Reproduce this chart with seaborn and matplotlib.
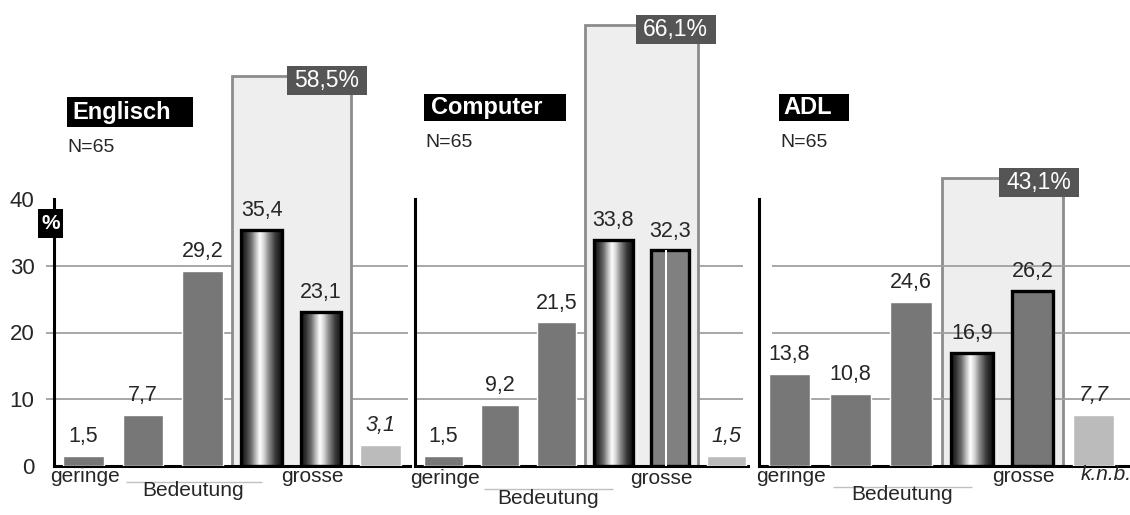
import numpy as np
import pandas as pd
import matplotlib
matplotlib.use("Agg")
import matplotlib.pyplot as plt
import seaborn as sns
from matplotlib.patches import Rectangle
from matplotlib.colors import LinearSegmentedColormap

sns.set_style("white")
plt.rcParams["font.family"] = ["Liberation Sans", "DejaVu Sans"]

# ---- data -------------------------------------------------------------
scale_steps = ["1", "2", "3", "4", "5", "k.n.b."]
englisch = [1.5, 7.7, 29.2, 35.4, 23.1, 3.1]
computer = [1.5, 9.2, 21.5, 33.8, 32.3, 1.5]
adl = [13.8, 10.8, 24.6, 16.9, 26.2, 7.7]
top_two_share = [58.5, 66.1, 43.1]
titles = ["Englisch", "Computer", "ADL"]
sample_size = ["N=65", "N=65", "N=65"]
y_ticks = [0, 10, 20, 30, 40]

# ---- bar styles ---------------------------------------------------------
englisch_styles = ["flat", "flat", "flat", "cyl", "cyl", "knb"]
computer_styles = ["flat", "flat", "flat", "cyl", "stripe", "knb"]
adl_styles = ["flat", "flat", "flat", "cyl", "edge", "knb"]

W, H = 1130, 515
fig = plt.figure(figsize=(W / 100, H / 100), dpi=100)

cyl_cmap = LinearSegmentedColormap.from_list(
    "cyl",
    [(0.0, "#111111"), (0.12, "#333333"), (0.25, "#6e6e6e"), (0.36, "#bdbdbd"),
     (0.46, "#ffffff"), (0.56, "#d6d6d6"), (0.68, "#8a8a8a"), (0.84, "#3a3a3a"),
     (1.0, "#0d0d0d")])

FLAT = "#777777"
KNB = "#bbbbbb"
BOX_FILL = "#eeeeee"
BOX_EDGE = "#8c8c8c"
GRID = "#a0a0a0"

y0_px, y40_px = 466, 199

panels = [
    dict(values=englisch, styles=englisch_styles, left=54, right=410,
         title_box=(67, 97, 193, 127), title_x=72, n_xy=(67, 148),
         grid=(-0.635, 5.47), box_over_grid=True, base_end=5.5,
         yticks=True, sub=(10, 24, 16)),
    dict(values=computer, styles=computer_styles, left=415, right=755,
         title_box=(424, 94, 566, 121), title_x=431, n_xy=(425, 143),
         grid=(-0.5, 5.28), box_over_grid=True, base_end=5.37,
         yticks=False, sub=(12, 32, 23)),
    dict(values=adl, styles=adl_styles, left=759, right=1124,
         title_box=(779, 94, 849, 121), title_x=783, n_xy=(780, 143),
         grid=(-0.29, 5.6), box_over_grid=False, base_end=5.6,
         yticks=False, sub=(11, 28, 21)),
]

def fx(x):
    return x / W

def fy(y):
    return 1 - y / H

def fmt(v):
    return f"{v:.1f}".replace(".", ",")

for i, p in enumerate(panels):
    ax = fig.add_axes([fx(p["left"]), fy(y0_px), (p["right"] - p["left"]) / W,
                       (y0_px - y40_px) / H])
    ax.patch.set_alpha(0)
    px_per_cat = (p["right"] - p["left"]) / 6
    px_per_unit = (y0_px - y40_px) / 40

    colors = [KNB if s == "knb" else ("#808080" if s == "stripe" else FLAT)
              for s in p["styles"]]
    df = pd.DataFrame({"step": scale_steps, "value": p["values"]})
    sns.barplot(data=df, x="step", y="value", hue="step", order=scale_steps,
                hue_order=scale_steps, palette=colors, saturation=1,
                width=0.68, legend=False, ax=ax)

    ax.set_xlim(-0.5, 5.5)
    ax.set_ylim(0, 40)
    ax.set_xlabel("")
    ax.set_ylabel("")

    # spines and ticks
    for side in ("top", "right"):
        ax.spines[side].set_visible(False)
    for side in ("left", "bottom"):
        ax.spines[side].set_color("black")
        ax.spines[side].set_linewidth(2.2)
    ax.spines["bottom"].set_bounds(-0.5, p["base_end"])
    ax.set_xticks([-0.5, 0.5, 1.5, 2.5, 3.5, 4.5])
    ax.set_xticklabels([])
    ax.tick_params(axis="x", direction="out", length=7, width=2.2, color="black")
    if p["yticks"]:
        ax.set_yticks(y_ticks)
        ax.set_yticklabels([str(t) for t in y_ticks], fontsize=16)
        ax.tick_params(axis="y", direction="out", length=8, width=1.5,
                       color="black", pad=6)
    else:
        ax.set_yticks([])

    # horizontal grid lines
    z_grid, z_box = (0.5, 1.0) if p["box_over_grid"] else (1.0, 0.5)
    ax.hlines([10, 20, 30], p["grid"][0], p["grid"][1], colors=GRID,
              linewidth=1.3, zorder=z_grid, clip_on=False)

    # shaded region for the two top scale steps
    share = top_two_share[i]
    ax.add_patch(Rectangle((2.5, 0), 2.0, share, facecolor=BOX_FILL,
                           edgecolor=BOX_EDGE, linewidth=2, zorder=z_box,
                           clip_on=False))
    lw_data = 80 / px_per_cat
    lh_data = 29 / px_per_unit
    lx = 4.1
    lbot = share - 19 / px_per_unit
    ax.add_patch(Rectangle((lx - lw_data / 2, lbot), lw_data, lh_data,
                           facecolor="#555555", edgecolor="none", zorder=6,
                           clip_on=False))
    ax.text(lx, lbot + lh_data / 2, fmt(share) + "%", color="white",
            fontsize=16.5, ha="center", va="center", zorder=7, clip_on=False)

    # bar styling
    bars = sorted(ax.patches[:], key=lambda r: r.get_x())
    bars = [b for b in bars if abs(b.get_width() - 0.68) < 1e-6]
    for bar, style, v in zip(bars, p["styles"], p["values"]):
        bar.set_zorder(3)
        x0, w = bar.get_x(), bar.get_width()
        if style == "cyl":
            grad = np.linspace(0, 1, 256).reshape(1, -1)
            ax.imshow(grad, extent=(x0, x0 + w, 0, v), cmap=cyl_cmap,
                      aspect="auto", zorder=3, interpolation="bilinear")
            bar.set_facecolor("none")
            bar.set_edgecolor("black")
            bar.set_linewidth(2.4)
            bar.set_zorder(4)
        elif style in ("stripe", "edge"):
            bar.set_edgecolor("black")
            bar.set_linewidth(2.4)
            bar.set_zorder(4)
            if style == "stripe":
                ax.add_patch(Rectangle((x0 + 0.37 * w, 0), 0.05 * w, v,
                                       facecolor="white", edgecolor="none",
                                       zorder=4.5))
        ax.annotate(fmt(v), (x0 + w / 2, v), xytext=(0, 10),
                    textcoords="offset points", ha="center", va="baseline",
                    fontsize=15.5, style="italic" if style == "knb" else "normal",
                    zorder=8, annotation_clip=False)
    ax.set_xlim(-0.5, 5.5)
    ax.set_ylim(0, 40)

    # scale captions below the axis
    d1, d2, dl = p["sub"]
    ax.annotate("geringe", (0.03, 0), xycoords=("data", "axes fraction"),
                xytext=(0, -d1 * 0.72), textcoords="offset points",
                ha="center", va="center", fontsize=15, annotation_clip=False)
    ax.annotate("grosse", (3.85, 0), xycoords=("data", "axes fraction"),
                xytext=(0, -d1 * 0.72), textcoords="offset points",
                ha="center", va="center", fontsize=15, annotation_clip=False)
    ax.annotate("Bedeutung", (1.85, 0), xycoords=("data", "axes fraction"),
                xytext=(0, -d2 * 0.72), textcoords="offset points",
                ha="center", va="center", fontsize=15, annotation_clip=False)
    ax.hlines(-dl / px_per_unit, 0.72, 3.0, colors="#c0c0c0", linewidth=1,
              clip_on=False)
    if i == 2:
        ax.annotate("k.n.b.", (4.78, 0), xycoords=("data", "axes fraction"),
                    xytext=(0, -9 * 0.72), textcoords="offset points",
                    ha="left", va="center", fontsize=15, style="italic",
                    annotation_clip=False)

    # panel heading
    bx0, by0, bx1, by1 = p["title_box"]
    fig.add_artist(Rectangle((fx(bx0), fy(by1)), (bx1 - bx0) / W, (by1 - by0) / H,
                             transform=fig.transFigure, facecolor="black",
                             edgecolor="none"))
    fig.text(fx(p["title_x"]), fy((by0 + by1) / 2), titles[i], color="white",
             fontsize=17, fontweight="bold", ha="left", va="center")
    fig.text(fx(p["n_xy"][0]), fy(p["n_xy"][1]), sample_size[i], fontsize=14,
             ha="left", va="center")

# percent marker on the first axis
fig.add_artist(Rectangle((fx(38), fy(238)), 25 / W, 29 / H,
                         transform=fig.transFigure, facecolor="black",
                         edgecolor="none"))
fig.text(fx(50.5), fy(223.5), "%", color="white", fontsize=15,
         fontweight="bold", ha="center", va="center")

fig.savefig("out.png", dpi=100, facecolor="white")
